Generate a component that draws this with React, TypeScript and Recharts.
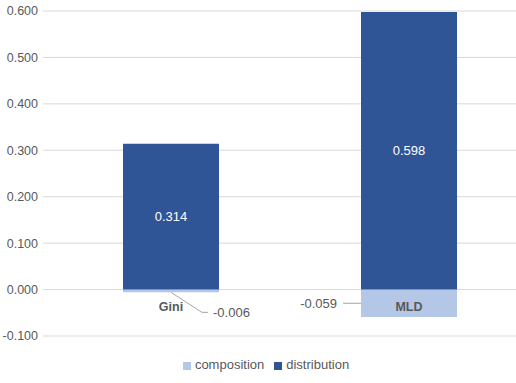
import { BarChart, Bar, XAxis, YAxis, CartesianGrid, Legend, LabelList } from "recharts";

const categories = ["Gini", "MLD"];
const composition = [-0.006, -0.059];
const distribution = [0.314, 0.598];
const yTicks = [-0.1, 0, 0.1, 0.2, 0.3, 0.4, 0.5, 0.6];

const data = categories.map((c, i) => ({ c, composition: composition[i], distribution: distribution[i] }));

const DARK = "#2F5597";
const LIGHT = "#B4C7E7";
const TEXT = "#595959";
const FONT = "'Liberation Sans', Arial, sans-serif";

// reads rect geometry whether Recharts hands it over flat or as viewBox
function rectOf(p: any) {
  const vb = p.viewBox ?? p;
  const x = Number(vb.x), y = Number(vb.y), w = Number(vb.width), h = Number(vb.height);
  return { x, w, top: Math.min(y, y + h), bottom: Math.max(y, y + h) };
}

// value in the middle + category name just under the zero line
function DistLabel(p: any) {
  const { x, w, top, bottom } = rectOf(p);
  const cx = x + w / 2;
  const i = p.index ?? 0;
  return (
    <g>
      <text x={cx} y={(top + bottom) / 2} fill="#fff" fontSize={13} fontFamily={FONT}
        textAnchor="middle" dominantBaseline="central">
        {Number(p.value).toFixed(3)}
      </text>
      <text x={cx} y={bottom + 17} fill={TEXT} fontSize={12.5} fontWeight="bold" fontFamily={FONT}
        textAnchor="middle" dominantBaseline="central">
        {categories[i]}
      </text>
    </g>
  );
}

// negative labels were dragged aside in the original, each with a leader line
function CompLabel(p: any) {
  const { x, w, top, bottom } = rectOf(p);
  const i = p.index ?? 0;
  const txt = Number(p.value).toFixed(3);
  if (i === 0) {
    const cx = x + w / 2;
    const ly = bottom + 20;
    return (
      <g>
        <polyline points={`${cx},${bottom} ${cx + 31},${ly} ${cx + 37},${ly}`} fill="none" stroke="#A6A6A6" strokeWidth={1} />
        <text x={cx + 42} y={ly} fill={TEXT} fontSize={13} fontFamily={FONT} dominantBaseline="central">{txt}</text>
      </g>
    );
  }
  const my = (top + bottom) / 2;
  return (
    <g>
      <line x1={x - 18} y1={my} x2={x} y2={my} stroke="#A6A6A6" strokeWidth={1} />
      <text x={x - 24} y={my} fill={TEXT} fontSize={13} fontFamily={FONT} textAnchor="end" dominantBaseline="central">{txt}</text>
    </g>
  );
}

export default function App() {
  return (
    <div style={{ position: "absolute", left: 0, top: 0, width: 516, height: 383, overflow: "hidden", background: "#fff" }}>
      <BarChart width={528} height={383} data={data} stackOffset="sign" margin={{ top: 11, right: 0, left: 0, bottom: 47 }}>
        <CartesianGrid vertical={false} stroke="#D9D9D9" />
        <XAxis dataKey="c" hide padding={{ left: 9, right: 0 }} />
        <YAxis domain={[-0.1, 0.6]} ticks={yTicks} width={43} axisLine={false} tickLine={false} tickSize={3} tickMargin={2}
          tickFormatter={(v: number) => v.toFixed(3)} tick={{ fill: TEXT, fontSize: 12.5, fontFamily: FONT }} />
        <Legend verticalAlign="middle" align="center" iconType="square" iconSize={8}
          wrapperStyle={{ top: 357, left: 13, width: 516, fontFamily: FONT, fontSize: 13 }}
          formatter={(v: string) => <span style={{ color: TEXT }}>{v}</span>} />
        <Bar dataKey="composition" stackId="a" fill={LIGHT} barSize={96} isAnimationActive={false}>
          <LabelList dataKey="composition" content={CompLabel} />
        </Bar>
        <Bar dataKey="distribution" stackId="a" fill={DARK} barSize={96} isAnimationActive={false}>
          <LabelList dataKey="distribution" content={DistLabel} />
        </Bar>
      </BarChart>
    </div>
  );
}
